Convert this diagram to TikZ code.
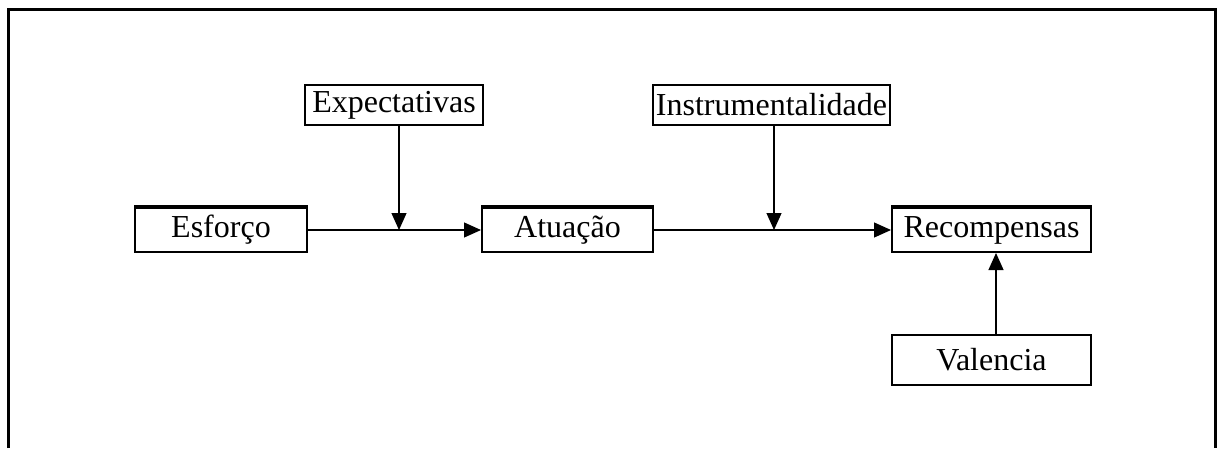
\documentclass[tikz,border=0pt]{standalone}
\usepackage{fontspec}
\setmainfont{Liberation Serif}
\usetikzlibrary{positioning,arrows.meta,calc}
\tikzset{
  varbox/.style={draw, line width=2pt, minimum height=44pt, inner sep=0pt,
                 font=\fontsize{32}{36}\selectfont},
  topbox/.style={varbox, minimum height=40pt},
  flowarrow/.style={line width=1.2pt, -{Triangle[length=17pt, width=15pt]}},
  topedge/.style={line width=3.5pt},
}
\begin{document}
\begin{tikzpicture}[x=1pt, y=-1pt]
\def\yMain{230}   % y-position for main row
\def\yTop{105}    % y-position for moderator boxes
\useasboundingbox (0,0) rectangle (1218,448);

%% Frame
\draw[line width=3pt] (8,448) -- (8,9) -- (1215,9) -- (1215,448);

%% Main row
\node[varbox, minimum width=172pt] (esforco) at (221,\yMain) {Esforço};
\node[varbox, minimum width=171pt] (atuacao) at (567.5,\yMain) {Atuação};
\node[varbox, minimum width=199pt] (recomp) at (991.5,\yMain) {Recompensas};
\node[varbox, minimum width=199pt, minimum height=50pt] (valencia) at (991.5,360) {Valencia};

% heavier top edges
\draw[topedge] (esforco.north west) -- (esforco.north east);
\draw[topedge] (atuacao.north west) -- (atuacao.north east);
\draw[topedge] (recomp.north west) -- (recomp.north east);

%% Moderators
\node[topbox, minimum width=178pt] (expect) at (394,\yTop) {Expectativas};
\node[topbox, minimum width=237pt] (instr) at (771.5,\yTop) {Instrumentalidade};

\coordinate (m1) at (399,\yMain);
\coordinate (m2) at (774,\yMain);
\coordinate (m3) at (996,\yMain);

%% Arrows
\draw[flowarrow] (esforco) -- (atuacao);
\draw[flowarrow] (atuacao) -- (recomp);
\draw[flowarrow] (expect.south -| m1) -- (m1);
\draw[flowarrow] (instr.south -| m2) -- (m2);
\draw[flowarrow] (valencia.north -| m3) -- (recomp.south -| m3);
\end{tikzpicture}
\end{document}
